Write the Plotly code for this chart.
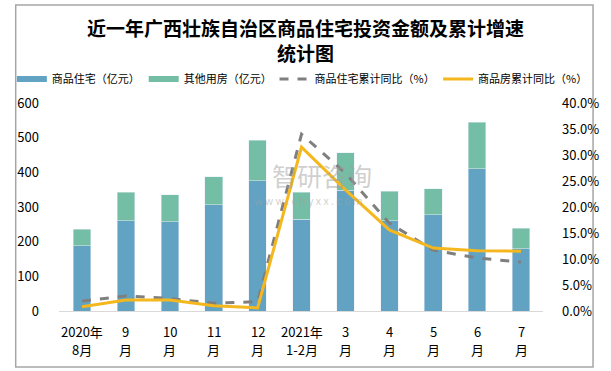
import plotly.graph_objects as go

categories = ["2020年8月", "9月", "10月", "11月", "12月", "2021年1-2月",
              "3月", "4月", "5月", "6月", "7月"]
label_top = ["2020年", "9", "10", "11", "12", "2021年", "3", "4", "5", "6", "7"]
label_bottom = ["8月", "月", "月", "月", "月", "1-2月", "月", "月", "月", "月", "月"]
residential = [188, 260, 257, 306, 376, 265, 349, 260, 277, 410, 179]
other = [48, 83, 78, 81, 117, 78, 107, 86, 75, 135, 60]
res_growth = [0.019, 0.029, 0.024, 0.015, 0.018, 0.340, 0.265, 0.169, 0.117, 0.102, 0.094]
house_growth = [0.008, 0.021, 0.021, 0.010, 0.006, 0.315, 0.233, 0.156, 0.121, 0.116, 0.115]

BLUE = "#62A3C4"
GREEN = "#74BEA5"
GRAY = "#7F7F7F"
GOLD = "#F5B71E"
FONT = "Noto Sans CJK SC"

fig = go.Figure()
fig.add_trace(go.Bar(x=categories, y=residential, name="商品住宅（亿元）", marker_color=BLUE,
                     showlegend=False))
fig.add_trace(go.Bar(x=categories, y=other, name="其他用房（亿元）", marker_color=GREEN,
                     showlegend=False))
# legend proxies (wide rectangle swatches like the reference)
fig.add_trace(go.Scatter(x=[None], y=[None], mode="lines", name="商品住宅（亿元）",
                         line=dict(color=BLUE, width=6), legend="legend"))
fig.add_trace(go.Scatter(x=[None], y=[None], mode="lines", name="其他用房（亿元）",
                         line=dict(color=GREEN, width=6), legend="legend2"))
fig.add_trace(go.Scatter(x=categories, y=res_growth, name="商品住宅累计同比（%）", yaxis="y2",
                         mode="lines", line=dict(color=GRAY, width=3, dash="dash"),
                         legend="legend3"))
fig.add_trace(go.Scatter(x=categories, y=house_growth, name="商品房累计同比（%）", yaxis="y2",
                         mode="lines", line=dict(color=GOLD, width=3), legend="legend4"))

annotations = [
    dict(text="<b>近一年广西壮族自治区商品住宅投资金额及累计增速<br>统计图</b>",
         xref="paper", yref="paper", x=0.509, y=1.3005, xanchor="center", yanchor="middle",
         showarrow=False, font=dict(family=FONT, size=19, color="#000000")),
    dict(text="智研咨询", xref="paper", yref="paper", x=0.543, y=0.654, showarrow=False,
         font=dict(size=25, color="rgba(160,160,160,0.5)", family=FONT)),
    dict(text="w w w . c h y x x . c o m", xref="paper", yref="paper", x=0.515, y=0.529,
         showarrow=False, font=dict(size=10.5, color="rgba(160,160,160,0.5)", family=FONT)),
]
for c, t, b in zip(categories, label_top, label_bottom):
    annotations.append(dict(text=t, x=c, xref="x", yref="paper", y=-0.1, yanchor="middle",
                            showarrow=False, font=dict(size=13, color="#000000")))
    annotations.append(dict(text=b, x=c, xref="x", yref="paper", y=-0.185, yanchor="middle",
                            showarrow=False, font=dict(size=13, color="#000000")))

legend_style = dict(orientation="h", xanchor="left", y=1.115, yanchor="middle",
                    font=dict(size=11, family=FONT), itemwidth=30,
                    bgcolor="rgba(0,0,0,0)")

fig.update_layout(
    width=611, height=371,
    margin=dict(l=49, r=59, t=103, b=60),
    paper_bgcolor="white", plot_bgcolor="white",
    barmode="stack", bargap=0.6,
    font=dict(family=FONT, size=13, color="#000000"),
    legend=dict(x=-0.0974, **legend_style),
    legend2=dict(x=0.1750, **legend_style),
    legend3=dict(x=0.4453, **legend_style),
    legend4=dict(x=0.7833, **legend_style),
    xaxis=dict(type="category", showgrid=False, showline=True, linecolor="#D9D9D9",
               linewidth=1, ticks="", showticklabels=False),
    yaxis=dict(range=[0, 600], dtick=100, showgrid=False, zeroline=False, showline=False,
               ticks="", tickfont=dict(size=13), ticklabelstandoff=19),
    yaxis2=dict(range=[0, 0.4], dtick=0.05, tickformat=".1%", overlaying="y", side="right",
                showgrid=False, zeroline=False, showline=False, ticks="",
                tickfont=dict(size=13), ticklabelstandoff=18),
    annotations=annotations,
    shapes=[
        dict(type="rect", xref="paper", yref="paper",
             x0=-45/503, x1=1 + 52/503, y0=-56/208, y1=1 + 98/208,
             line=dict(color="#A6A6A6", width=1.5), fillcolor="rgba(0,0,0,0)", layer="below"),
    ],
)

fig.write_html("out.html", config={"displayModeBar": False},
               post_script="document.body.style.margin='0';")
